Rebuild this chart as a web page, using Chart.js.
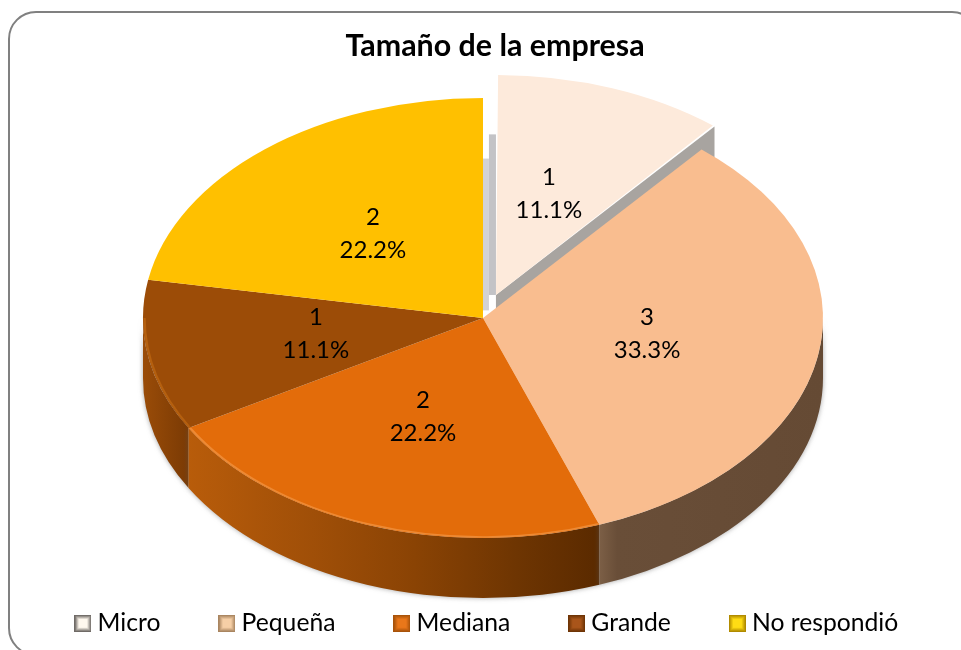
<!DOCTYPE html>
<html><head><meta charset="utf-8">
<style>
html,body{margin:0;padding:0;background:#fff;width:961px;height:650px;overflow:hidden}
#frame{position:absolute;left:8px;top:11px;width:972px;height:645px;border:2px solid #808080;border-radius:28px;box-sizing:border-box}
canvas{position:absolute;left:0;top:0;display:block}
</style>
<script src="https://cdn.jsdelivr.net/npm/chart.js@4"></script>
</head><body>
<div id="frame"></div>
<canvas id="c" width="961" height="650"></canvas>
<script>
const chartTitle = 'Tamaño de la empresa';
const categories = ['Micro', 'Pequeña', 'Mediana', 'Grande', 'No respondió'];
const counts = [1, 3, 2, 1, 2];
const faceColors = ['#fdeadb', '#f9bd8f', '#e36c0a', '#9c4c07', '#ffc000'];
const legendEdge = ['#6f6a66', '#a98560', '#a8530a', '#6e3406', '#b08a00'];
const legendCore = ['#fff8ee', '#f6cfa6', '#e9771a', '#a9551a', '#ffdc14'];

const RADIUS = 220, SX = 340 / 220, CX = 483, CY = 318, DEPTH = 60, EXPLODE = 24.5, LABEL_R = 0.49;
const LABEL_DX = [-4, 0, -3, -3, -3], LABEL_DY = [0, -3, -3, -2.5, -2];
const FONT = 'Lato, "Open Sans", sans-serif';

function hexMix(a, b, t) {
  const p = h => [1, 3, 5].map(k => parseInt(h.slice(k, k + 2), 16));
  const A = p(a), B = p(b);
  return 'rgb(' + A.map((v, i) => Math.round(v + (B[i] - v) * t)).join(',') + ')';
}
function legendIcon(i) {
  const c = document.createElement('canvas'); c.width = 17; c.height = 17;
  const g = c.getContext('2d');
  for (let k = 0; k < 5; k++) {
    g.fillStyle = hexMix(legendEdge[i], legendCore[i], k / 4);
    g.fillRect(k, k, 17 - 2 * k, 17 - 2 * k);
  }
  return c;
}
const icons = categories.map((_, i) => legendIcon(i));

function wall(ctx, el, stops) {
  const a0 = Math.max(el.startAngle, 0), a1 = Math.min(el.endAngle, Math.PI);
  if (a1 <= a0) return;
  const x = el.x, y = el.y, r = el.outerRadius;
  const xa = x + r * Math.cos(a0), xb = x + r * Math.cos(a1);
  const grad = ctx.createLinearGradient(Math.min(xa, xb), 0, Math.max(xa, xb), 0);
  stops.forEach(s => grad.addColorStop(s[0], s[1]));
  ctx.fillStyle = grad;
  ctx.beginPath();
  ctx.arc(x, y, r, a0, a1);
  ctx.arc(x, y + DEPTH, r, a1, a0, true);
  ctx.closePath();
  ctx.fill();
}
function rim(ctx, el, color) {
  ctx.strokeStyle = color; ctx.lineWidth = 1.5;
  ctx.beginPath();
  ctx.arc(el.x, el.y, el.outerRadius - 1, Math.max(el.startAngle, 0), Math.min(el.endAngle, Math.PI));
  ctx.stroke();
}

const pie3d = {
  id: 'pie3d',
  afterLayout(chart) {
    chart.titleBlock.left += 14.5; chart.titleBlock.right += 14.5;
    const lg = chart.legend;
    const dy = 611 - (lg.top + lg.options.labels.padding);
    lg.top += dy; lg.bottom += dy; lg.left += 9; lg.right += 9;
  },
  beforeDatasetsDraw(chart) {
    const ctx = chart.ctx, arcs = chart.getDatasetMeta(0).data;
    const x0 = arcs[0].x, y0 = arcs[0].y;
    // the offset option also grows the arc; keep the exploded slice at the pie's radius
    const m = arcs[0];
    const grow = EXPLODE * (1 - Math.sin(m.endAngle - m.startAngle));
    m.outerRadius = RADIUS - grow;
    ctx.save();
    ctx.translate(CX, CY); ctx.scale(SX, 1); ctx.translate(-x0, -y0);
    ctx.save();
    ctx.shadowColor = 'rgba(90,90,90,0.55)'; ctx.shadowBlur = 5;
    wall(ctx, arcs[3], [[0, '#9a4c08'], [1, '#7a3a04']]);
    wall(ctx, arcs[2], [[0, '#b85c0a'], [0.3, '#a04f08'], [0.55, '#8a4304'], [0.8, '#6e3502'], [1, '#5a2a00']]);
    wall(ctx, arcs[1], [[0, '#7c5f46'], [0.08, '#694e38'], [1, '#654a34']]);
    ctx.restore();
    // exploded slice: its two exposed sides, taken from the arc element
    const r = RADIUS;
    const mid = (m.startAngle + m.endAngle) / 2;
    const ox = m.x + Math.cos(mid) * EXPLODE, oy = m.y + Math.sin(mid) * EXPLODE;
    const ex = ox + r * Math.cos(m.endAngle), ey = oy + r * Math.sin(m.endAngle);
    ctx.fillStyle = '#a8a4a0';
    ctx.beginPath();
    ctx.moveTo(ox, oy); ctx.lineTo(ex, ey); ctx.lineTo(ex, ey + 32); ctx.lineTo(ox, oy + 32); ctx.closePath(); ctx.fill();
    const u = 1 / SX;
    ctx.fillStyle = '#c3c3c6';
    ctx.fillRect(ox - 7 * u, oy - 0.73 * r, 7 * u, 0.73 * r);
    ctx.fillStyle = '#d2d2d5';
    ctx.fillRect(ox - 13 * u, oy - 0.62 * r, 6 * u, 0.69 * r);
  },
  afterDatasetsDraw(chart) {
    const ctx = chart.ctx, arcs = chart.getDatasetMeta(0).data;
    rim(ctx, arcs[2], '#ee8a34');
    rim(ctx, arcs[3], '#b5600f');
    ctx.restore();
    const total = counts.reduce((a, b) => a + b, 0);
    ctx.save();
    ctx.fillStyle = '#000';
    ctx.font = '24px ' + FONT;
    ctx.textAlign = 'center'; ctx.textBaseline = 'middle';
    arcs.forEach((el, i) => {
      const mid = (el.startAngle + el.endAngle) / 2;
      const off = i === 0 ? EXPLODE : 0;
      const d = RADIUS * LABEL_R + off;
      const px = CX + SX * d * Math.cos(mid) + LABEL_DX[i];
      const py = CY + d * Math.sin(mid) + LABEL_DY[i];
      ctx.fillText(String(counts[i]), px, py - 16.5);
      ctx.fillText((counts[i] / total * 100).toFixed(1) + '%', px, py + 16.5);
    });
    ctx.restore();
  }
};

new Chart(document.getElementById('c'), {
  type: 'pie',
  data: {
    labels: categories,
    datasets: [{
      data: counts,
      backgroundColor: faceColors,
      borderWidth: 0,
      offset: [EXPLODE * 4, 0, 0, 0, 0],
      radius: RADIUS,
      clip: false
    }]
  },
  options: {
    responsive: false,
    animation: false,
    layout: { padding: { left: 0, right: 0, top: 0, bottom: 0 } },
    plugins: {
      title: {
        display: true, text: chartTitle, color: '#000',
        font: { family: FONT, size: 30.4, weight: 'bold' },
        padding: { top: 28, bottom: 0 }
      },
      tooltip: { enabled: false },
      legend: {
        position: 'bottom',
        labels: {
          color: '#000',
          font: { family: FONT, size: 24.7 },
          padding: 64.25,
          usePointStyle: true,
          pointStyleWidth: 4.5,
          generateLabels(chart) {
            return categories.map((t, i) => ({ text: t, fillStyle: faceColors[i], strokeStyle: faceColors[i], lineWidth: 0, pointStyle: icons[i], index: i, hidden: false, fontColor: '#000' }));
          }
        }
      }
    }
  },
  plugins: [pie3d]
});
</script>
</body></html>
